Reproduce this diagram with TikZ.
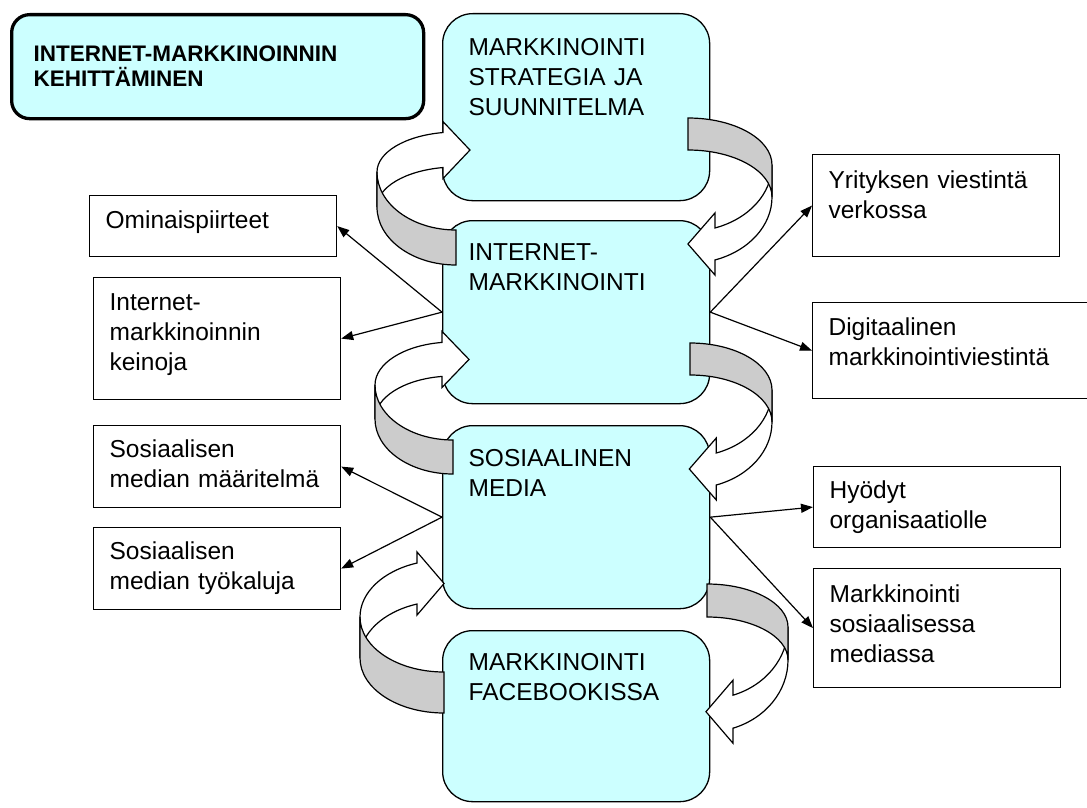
\documentclass[tikz,border=0pt]{standalone}
\usepackage{fontspec}
\setmainfont{Liberation Sans}
\usetikzlibrary{arrows.meta}
\definecolor{boxcyan}{RGB}{204,255,255}
\definecolor{ribbongray}{RGB}{204,204,204}

\newcommand{\leftribbon}[7]{%
    \pgfmathsetmacro\ribbonend{360-#7}
    \draw [ribbonfront] (#1,#2) ++(-#7:#3 and #4)
        arc [start angle=-#7, end angle=-180, x radius=#3, y radius=#4]
        -- ++(0,#6)
        arc [start angle=180, end angle=\ribbonend, x radius=#3, y radius=#4]
        -- ++(0,11) -- ++(27,-#6/2-11) -- ++(-27,-#6/2-11) -- cycle;
    \draw [ribbonback] (#1,#2) ++(-#3,0)
        arc [start angle=180, end angle=90, x radius=#3, y radius=#5]
        -- ++(0,#6)
        arc [start angle=90, end angle=180, x radius=#3, y radius=#5] -- cycle;
}
\newcommand{\rightribbon}[7]{%
    \draw [ribbonfront] (#1,#2) ++(#3,0)
        arc [start angle=0, end angle=#7, x radius=#3, y radius=#5]
        -- ++(0,-15) -- ++(-27,#6/2+15) -- ++(27,#6/2+15) -- ++(0,-15)
        arc [start angle=#7, end angle=0, x radius=#3, y radius=#5] -- cycle;
    \draw [ribbonback] (#1,#2) ++(0,-#4)
        arc [start angle=-90, end angle=0, x radius=#3, y radius=#4]
        -- ++(0,#6)
        arc [start angle=0, end angle=-90, x radius=#3, y radius=#4] -- cycle;
}

\begin{document}
\begin{tikzpicture}[x=1pt, y=-1pt, >={Triangle[length=12pt,width=9pt]}]
    \tikzset{titlebox/.style={draw, fill=boxcyan, line width=3.3pt, rounded corners=18pt, anchor=north west,
            align=left, inner xsep=22pt, inner ysep=0pt, text width=368pt, font=\fontsize{22.5}{25}\selectfont\bfseries},
        mainbox/.style={draw, fill=boxcyan, line width=1.3pt, rounded corners=30pt, anchor=north west,
            align=left, inner xsep=26pt, inner ysep=0pt, text width=215pt, font=\fontsize{24.5}{30}\selectfont},
        sidebox/.style={draw, fill=white, line width=1.2pt, anchor=north west,
            align=left, inner xsep=16pt, inner ysep=0pt, text width=215pt, font=\fontsize{24.5}{30}\selectfont},
        ribbonfront/.style={draw, fill=white, line width=1.2pt},
        ribbonback/.style={draw, fill=ribbongray, line width=1.2pt}
    }

    \path [use as bounding box, fill=white] (0,0) rectangle (1087,808);
    \clip (0,0) rectangle (1087,808);

    \node (title) [titlebox, text height=47pt, text depth=57pt] at (10,13) {INTERNET-MARKKINOINNIN\\KEHITTÄMINEN};

    \node (strategy) [mainbox, text height=42pt, text depth=145pt] at (442,13) {MARKKINOINTI\\STRATEGIA JA\\SUUNNITELMA};
    \node (internet) [mainbox, text height=40pt, text depth=143pt] at (442,220) {INTERNET-\\MARKKINOINTI};
    \node (social) [mainbox, text height=41pt, text depth=142pt] at (442,425) {SOSIAALINEN\\MEDIA};
    \node (facebook) [mainbox, text height=40pt, text depth=131pt] at (442,630) {MARKKINOINTI\\FACEBOOKISSA};

    \node (features) [sidebox, text height=33pt, text depth=28pt] at (89,195) {Ominaispiirteet};
    \node (means) [sidebox, text height=33pt, text depth=89pt] at (93,277) {Internet-\\markkinoinnin\\keinoja};
    \node (smdef) [sidebox, text height=32pt, text depth=50pt] at (93,425) {Sosiaalisen\\median määritelmä};
    \node (smtools) [sidebox, text height=32pt, text depth=50pt] at (93,527) {Sosiaalisen\\median työkaluja};
    \node (webcomms) [sidebox, text height=34pt, text depth=68pt] at (812,154) {Yrityksen viestintä\\verkossa};
    \node (digital) [sidebox, text width=251pt, text height=33pt, text depth=63pt] at (812,302) {Digitaalinen\\markkinointiviestintä};
    \node (benefits) [sidebox, text height=32pt, text depth=49pt] at (813,466) {Hyödyt\\organisaatiolle};
    \node (smmarketing) [sidebox, text height=34pt, text depth=85pt] at (813,568) {Markkinointi\\sosiaalisessa\\mediassa};

    \foreach \from / \to in {internet.west/features.east, internet.west/means.east,
            internet.east/webcomms.west, internet.east/digital.west,
            social.west/smdef.east, social.west/smtools.east,
            social.east/benefits.west, social.east/smmarketing.west} {
        \draw [->, line width=1.2pt] (\from) -- (\to);
    }

    \leftribbon{456}{172}{79}{40}{58}{35}{99.5}
    \leftribbon{453}{385}{78}{43}{55}{34}{98.1}
    \leftribbon{444}{617}{84}{57}{55}{41}{108.7}
    \rightribbon{688}{165}{84}{47}{66.5}{32}{71.3}
    \rightribbon{690}{390}{82}{47}{66.5}{32}{71.3}
    \rightribbon{707}{627}{81}{43}{72}{33}{71.3}
\end{tikzpicture}
\end{document}
